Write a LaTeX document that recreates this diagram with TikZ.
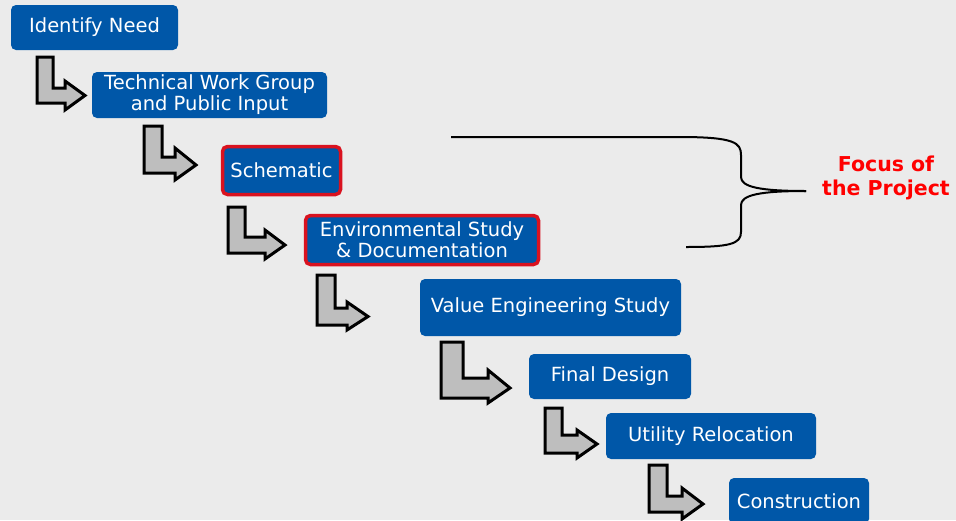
\documentclass[tikz,border=0pt]{standalone}
\usepackage{fontspec}
\setmainfont{DejaVu Sans}
\definecolor{bg}{HTML}{EBEBEB}
\definecolor{stepblue}{HTML}{0057A8}
\definecolor{focusred}{HTML}{D9121F}
\definecolor{notered}{HTML}{FF0000}
\definecolor{arrowgrey}{HTML}{BEBEBE}
% elbow arrow: stem x0..x1 from y0 down, bar y1..y2 out to head base xh, tip xt, head yh1..yh2
\newcommand\elbowarrow[9]{%
  \draw[elbow] (#1,#3) -- (#2,#3) -- (#2,#4) -- (#6,#4) -- (#6,#8)
    -- (#7,{(#4+#5)/2}) -- (#6,#9) -- (#6,#5) -- (#1,#5) -- cycle;}
\begin{document}
\begin{tikzpicture}[x=1pt,y=-1pt,
  stepbox/.style={fill=stepblue,text=white,rounded corners=5pt,inner sep=0pt,
    align=center,font=\fontsize{19.5}{21}\selectfont},
  focusbox/.style={stepbox,draw=focusred,line width=3.5pt},
  elbow/.style={fill=arrowgrey,draw=black,line width=3pt,line join=miter},
  brace/.style={draw=black,line width=2pt},
  note/.style={text=notered,align=center,font=\fontsize{20.5}{24}\selectfont\bfseries}]
\fill[bg] (0,0) rectangle (956,520);
\useasboundingbox (0,0) rectangle (956,520);

\node[stepbox,minimum width=167pt,minimum height=45pt] (n1) at (94.5,27.5) {Identify Need};
\node[stepbox,minimum width=235pt,minimum height=46pt] (n2) at (209.5,95) {Technical Work Group\\and Public Input};
\node[focusbox,minimum width=118pt,minimum height=48pt] (n3) at (281.5,170.5) {Schematic};
\node[focusbox,minimum width=233pt,minimum height=49pt] (n4) at (422,240) {Environmental Study\\\& Documentation};
\node[stepbox,minimum width=261pt,minimum height=57pt] (n5) at (550.5,307.5) {Value Engineering Study};
\node[stepbox,minimum width=162pt,minimum height=45pt] (n6) at (610,376.5) {Final Design};
\node[stepbox,minimum width=210pt,minimum height=46pt] (n7) at (711,436) {Utility Relocation};
\node[stepbox,minimum width=140pt,minimum height=46pt] (n8) at (799,501) {Construction};

\elbowarrow{37}{53}{57}{88}{103}{65}{85}{81}{110}
\elbowarrow{144}{162}{126}{157}{173}{175}{196}{148}{180}
\elbowarrow{228}{245}{207}{237}{253}{265}{285}{230}{259}
\elbowarrow{317}{335}{275}{308}{325}{347}{368}{302}{330}
\elbowarrow{441}{463}{342}{378}{398}{488}{510}{370}{403}
\elbowarrow{545}{562}{408}{435}{453}{577}{597}{430}{458}
\elbowarrow{649}{667}{465}{496}{512}{682}{703}{488}{519}

% brace grouping the focus steps
\coordinate (bt) at (451,137);
\coordinate (bb) at (686,247);
\coordinate (tip) at (806,191);
\draw[brace] (bt) -- (680,137) .. controls (735,137) and (741,143) .. (741,155)
  -- (741,177) .. controls (741,187) and (760,191) .. (tip);
\draw[brace] (tip) .. controls (760,191) and (741,195) .. (741,205)
  -- (741,232) .. controls (741,244) and (730,247) .. (bb);

\node[note] (focus) at (886,178) {Focus of\\the Project};
\end{tikzpicture}
\end{document}
